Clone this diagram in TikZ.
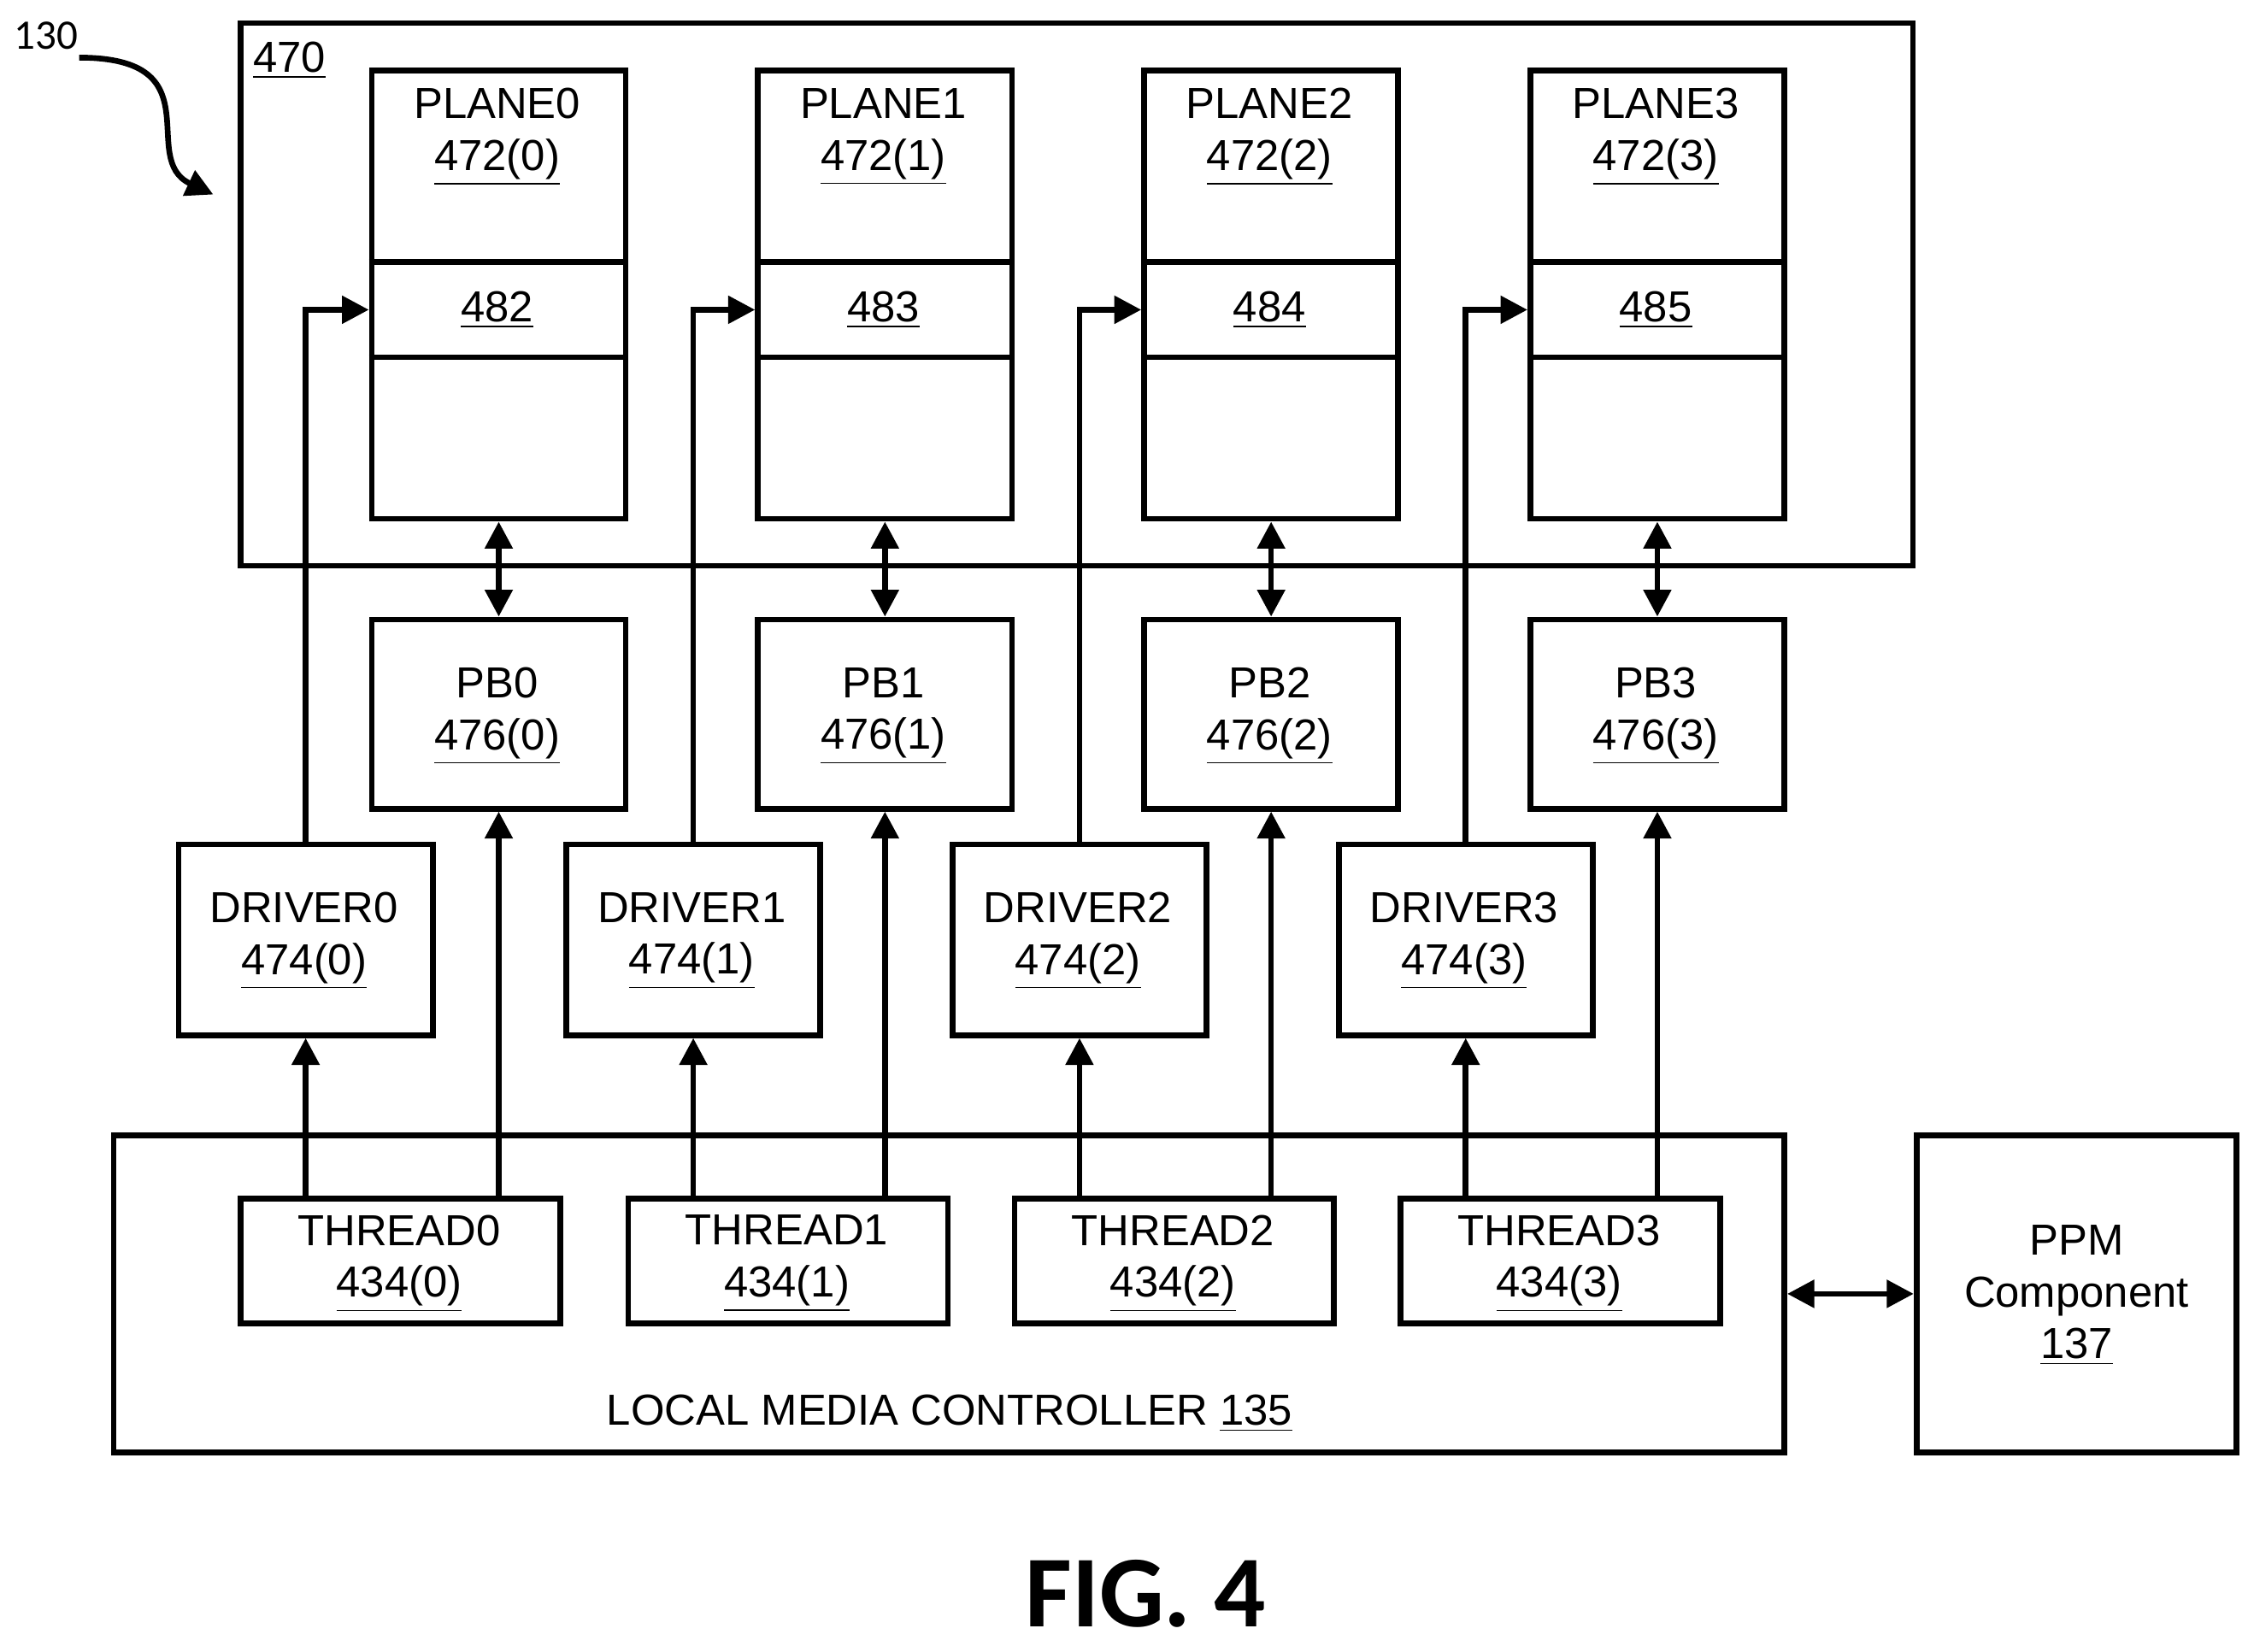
\documentclass[tikz,border=0pt]{standalone}
\usepackage{fontspec}
\setmainfont{Liberation Sans}
\newfontfamily\figfont{Carlito}
\usetikzlibrary{arrows.meta}

\tikzset{
  box/.style={draw, line width=1.9pt, anchor=north west, inner sep=0pt},
  lbl/.style={align=center, font=\fontsize{14.5}{17.3}\selectfont},
  conn/.style={line width=1.9pt, -{Triangle[length=9pt,width=9pt]}},
  both/.style={line width=1.9pt, {Triangle[length=9pt,width=9pt]}-{Triangle[length=9pt,width=9pt]}}
}

\begin{document}
\begin{tikzpicture}[x=0.0169cm, y=-0.0169cm]
  \useasboundingbox (0,0) rectangle (1560,1146);

  % memory array
  \node[box, minimum width=19.62cm, minimum height=6.37cm] (array) at (165,14) {};
  \node[lbl] (arraylbl) at (201,42) {\underline{470}};
  \node[font=\figfont\fontsize{14}{16}\selectfont] (ref) at (32,25) {130};
  \draw[conn] (55,40) .. controls (150,40) and (95,110) .. (148,135);

  \foreach \i/\x/\d/\tx in {0/256/211/165, 1/524/480/434, 2/792/748/702, 3/1060/1016/970} {
    % plane and its page buffer
    \node[box, minimum width=2.98cm, minimum height=5.26cm] (plane\i) at (\x,47) {};
    \draw[line width=1.9pt] (\x,182) -- ++(178,0) (\x,248) -- ++(178,0);
    \node[lbl] (planelbl\i) at (\x+89,95) {PLANE\i\\\underline{472(\i)}};
    \pgfmathtruncatemacro{\reg}{482+\i}
    \node[lbl] (reg\i) at (\x+89,215) {\underline{\reg}};
    \node[box, minimum width=2.98cm, minimum height=2.22cm] (pb\i) at (\x,428) {};
    \node[lbl] (pblbl\i) at (\x+89,497) {PB\i\\\underline{476(\i)}};
    \coordinate (regin\i) at (\x,215);

    % driver
    \node[box, minimum width=2.98cm, minimum height=2.24cm] (drv\i) at (\d-89,584) {};
    \node[lbl] (drvlbl\i) at (\d,653) {DRIVER\i\\\underline{474(\i)}};

    % thread
    \node[box, minimum width=3.75cm, minimum height=1.46cm] (thr\i) at (\tx,830) {};
    \node[lbl] (thrlbl\i) at (\tx+112,877) {THREAD\i\\\underline{434(\i)}};

    \draw[both] (plane\i.south) -- (pb\i.north);
    \draw[conn] (drv\i.north) |- (regin\i);
    \draw[conn] (thr\i.north -| drv\i.south) -- (drv\i.south);
    \draw[conn] (thr\i.north -| pb\i.south) -- (pb\i.south);
  }

  % controller
  \node[box, minimum width=19.6cm, minimum height=3.72cm] (lmc) at (77,786) {};
  \node[lbl] (lmclbl) at (659,981) {LOCAL MEDIA CONTROLLER \underline{135}};
  \node[box, minimum width=3.75cm, minimum height=3.72cm] (ppm) at (1328,786) {};
  \node[lbl] (ppmlbl) at (1441,899) {PPM\\Component\\\underline{137}};
  \draw[both] (lmc.east |- ppm.west) -- (ppm.west);

  \node[font=\figfont\bfseries\fontsize{34}{38}\selectfont] (fig) at (795,1106) {FIG. 4};
\end{tikzpicture}
\end{document}
